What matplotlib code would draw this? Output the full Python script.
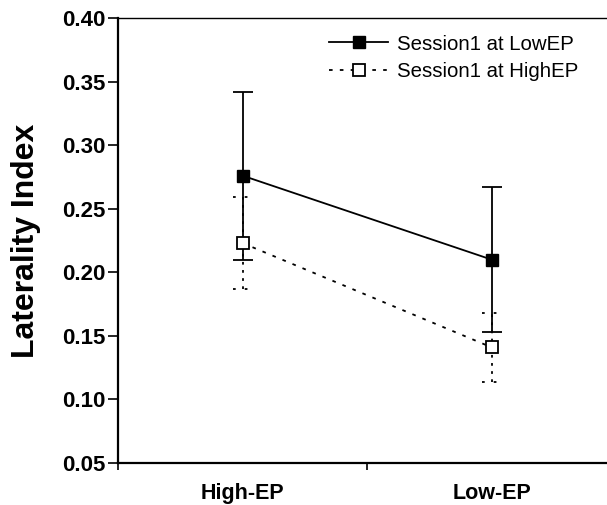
import matplotlib
matplotlib.use("Agg")
import matplotlib.pyplot as plt

categories = ["High-EP", "Low-EP"]
low_ep_mean = [0.276, 0.210]
low_ep_err = [0.066, 0.057]
high_ep_mean = [0.223, 0.141]
high_ep_err = [0.036, 0.027]
series_labels = ["Session1 at LowEP", "Session1 at HighEP"]
yticks = [0.05, 0.10, 0.15, 0.20, 0.25, 0.30, 0.35, 0.40]

plt.rcParams['font.family'] = ['Liberation Sans', 'DejaVu Sans']

fig = plt.figure(figsize=(6.07, 5.05), dpi=100)
ax = fig.add_axes([118/607, 1-463/505, 498/607, (463-18)/505])

xpos = [0.5, 1.5]

# hollow series (dotted)
ax.plot(xpos, high_ep_mean, linestyle=(0, (2, 4)), color='black', lw=1.3,
        marker='s', markersize=8, markerfacecolor='white', markeredgecolor='black',
        markeredgewidth=1.3, zorder=4, label=series_labels[1])
for x, m, e in zip(xpos, high_ep_mean, high_ep_err):
    ax.vlines(x, m - e, m + e, colors='black', linestyles=(0, (1.5, 3)), lw=1.3, zorder=2)
    ax.hlines([m - e, m + e], x - 0.04, x + 0.04, colors='black',
              linestyles=(0, (1.5, 5)), lw=1.3, zorder=2)

# filled series (solid)
ax.errorbar(xpos, low_ep_mean, yerr=low_ep_err, fmt='none', ecolor='black',
            elinewidth=1.3, capsize=7, capthick=1.3, zorder=3)
ax.plot(xpos, low_ep_mean, linestyle='-', color='black', lw=1.3,
        marker='s', markersize=8, markerfacecolor='black', markeredgecolor='black',
        zorder=5, label=series_labels[0])

ax.set_xlim(0, 2)
ax.set_ylim(0.05, 0.40)
ax.set_yticks(yticks)
ax.set_yticklabels([f"{v:.2f}" for v in yticks], fontsize=16, fontweight='bold')
ax.set_xticks([0, 1, 2])
ax.set_xticklabels([])
ax.set_xticks(xpos, minor=True)
ax.set_xticklabels(categories, minor=True, fontsize=15.5, fontweight='bold')
ax.tick_params(axis='x', which='minor', length=0, pad=14.5)
ax.tick_params(axis='x', which='major', length=5, width=1.2, direction='out')
ax.tick_params(axis='y', length=7, width=1.2, direction='out', pad=2)

ax.set_ylabel("Laterality Index", fontsize=23, fontweight='bold', labelpad=15)

ax.spines['right'].set_visible(False)
ax.spines['top'].set_linewidth(1.0)
ax.spines['left'].set_linewidth(1.6)
ax.spines['bottom'].set_linewidth(1.6)

handles, labels = ax.get_legend_handles_labels()
leg = ax.legend(handles[::-1], labels[::-1], loc='upper right',
                bbox_to_anchor=(0.962, 1.004), frameon=False, fontsize=14.7,
                handlelength=2.9, handletextpad=0.44, labelspacing=0.42)

fig.savefig("out.png", dpi=100)
